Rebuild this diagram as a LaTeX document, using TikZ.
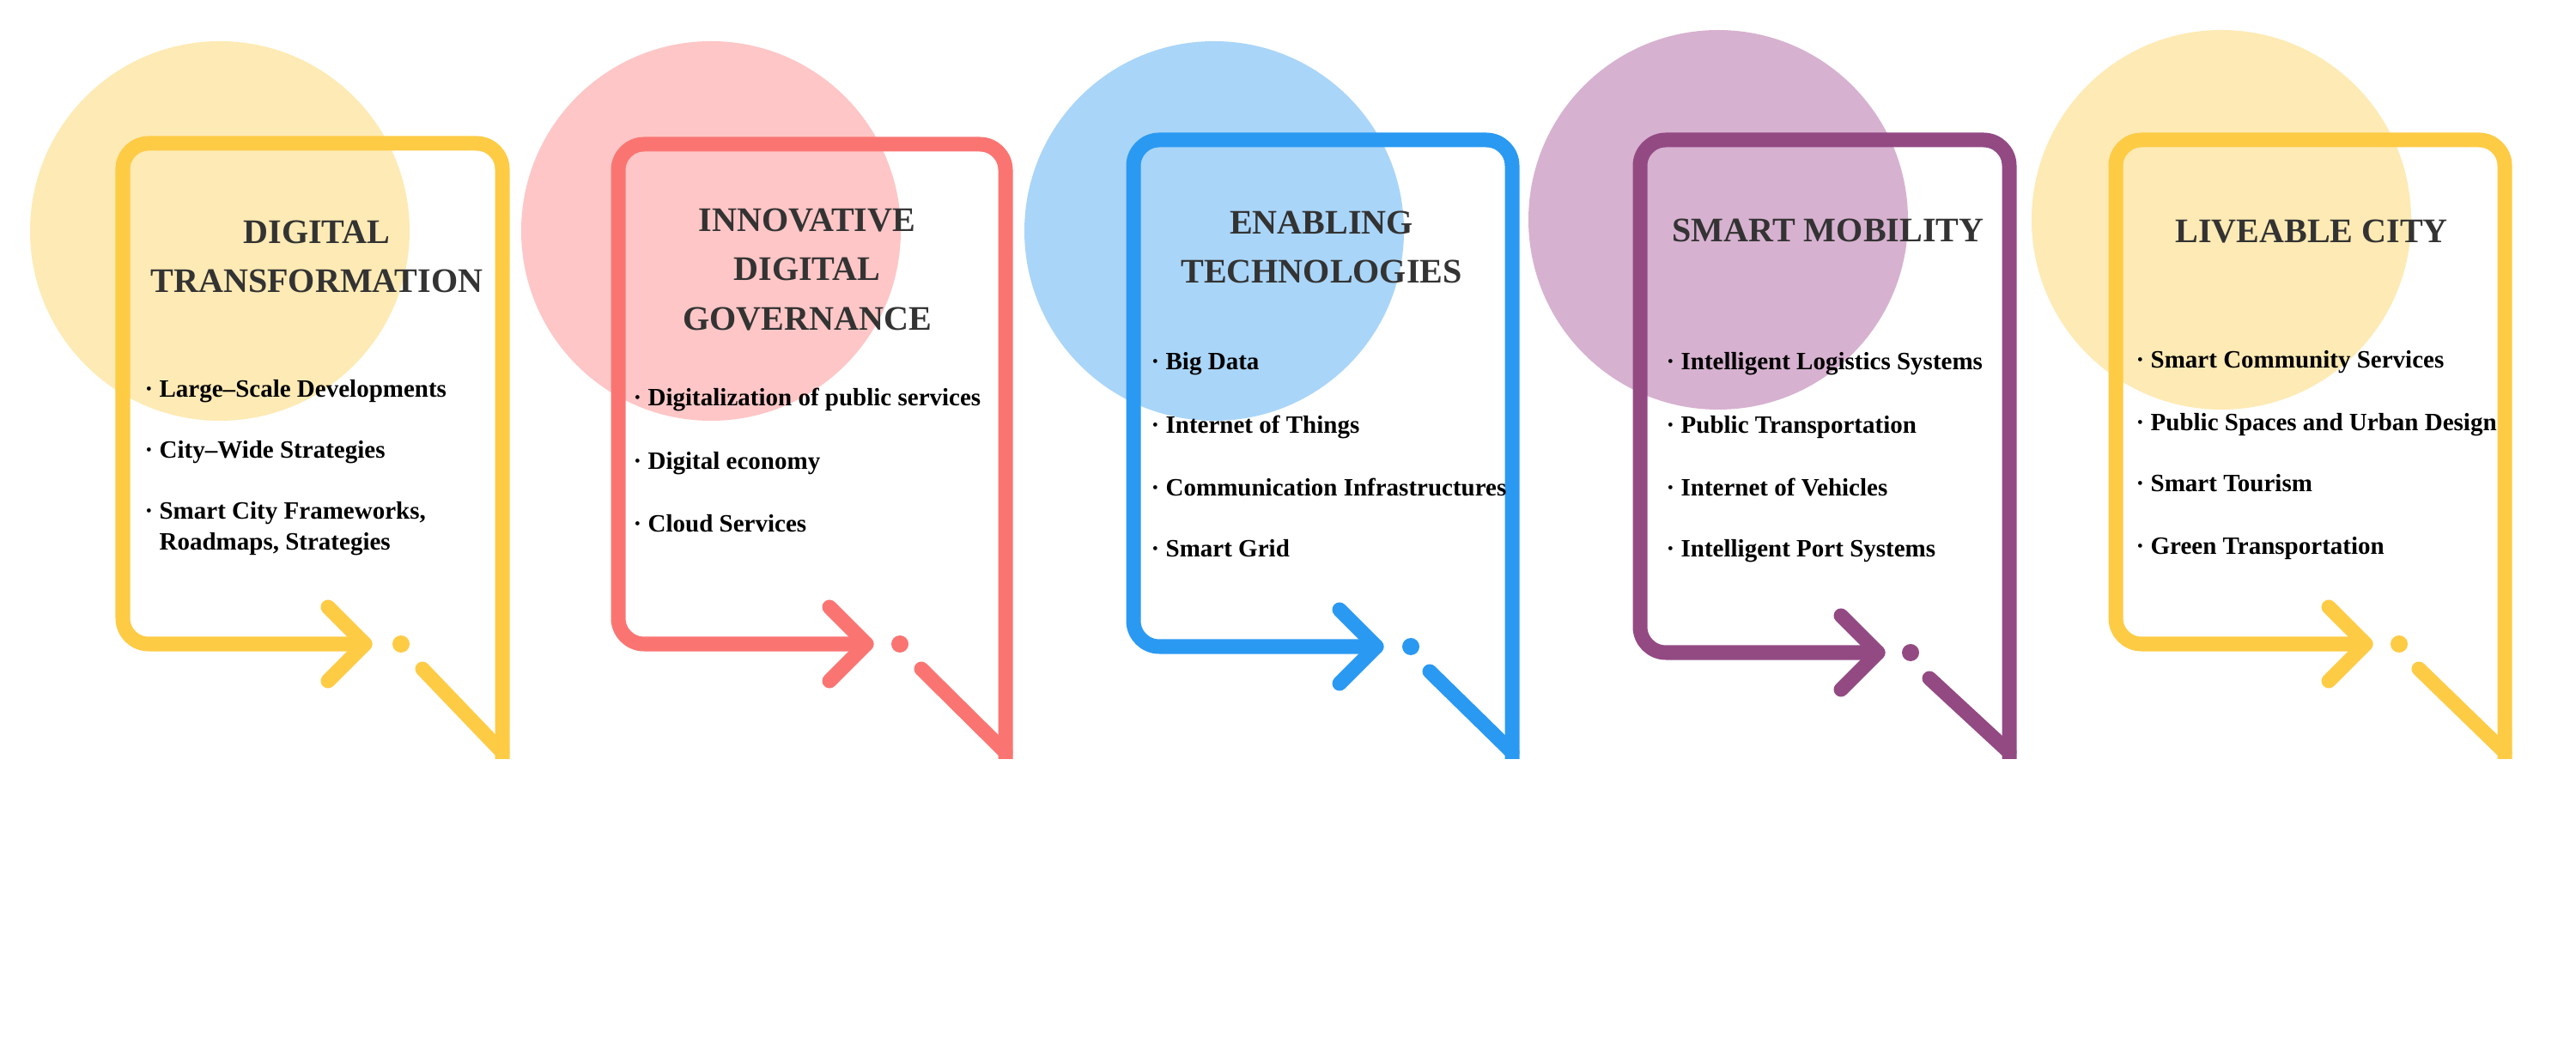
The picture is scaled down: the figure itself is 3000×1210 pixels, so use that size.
\documentclass[tikz,border=0pt]{standalone}
\usepackage{fontspec}
\setmainfont{Liberation Serif}
\definecolor{yellowline}{RGB}{254,203,69}
\definecolor{yellowfill}{RGB}{254,234,180}
\definecolor{redline}{RGB}{250,117,114}
\definecolor{redfill}{RGB}{254,198,198}
\definecolor{blueline}{RGB}{42,153,242}
\definecolor{bluefill}{RGB}{169,213,248}
\definecolor{purpleline}{RGB}{147,74,131}
\definecolor{purplefill}{RGB}{215,177,208}
\definecolor{titlegray}{RGB}{51,51,51}
\tikzstyle{bubble} = [line width=0.17cm, line cap=round, line join=round, rounded corners=0.3cm]
\tikzstyle{title} = [text centered, align=center, text=titlegray, font=\bfseries\fontsize{11.4}{16.3}\selectfont]
\tikzstyle{item} = [anchor=base west, align=left, inner sep=0pt, font=\bfseries\fontsize{8.25}{10.5}\selectfont]

\begin{document}
\begin{tikzpicture}[x=0.01cm, y=-0.01cm]
        \useasboundingbox (0,0) rectangle (3000,1210);
        \fill [white] (0,0) rectangle (3000,1210);

        % Circles behind the blocks
        \fill [yellowfill] (256,269) circle (221);
        \fill [redfill] (828,269) circle (221);
        \fill [bluefill] (1414,269) circle (221);
        \fill [purplefill] (2001,256) circle (221);
        \fill [yellowfill] (2587,256) circle (221);

        \begin{scope}
        \clip (0,0) rectangle (3000,884);
        % Digital transformation block
        \draw [bubble, yellowline] (425,750) -- (143,750) -- (143,167) -- (585,167) -- (585,884);
        \draw [bubble, yellowline] (492,779) -- (585,876);
        \draw [bubble, yellowline, sharp corners] (382,707) -- (425,750) -- (382,793);
        \fill [yellowline] (467,750) circle (10);

        % Governance block
        \draw [bubble, redline] (1009,750) -- (720,750) -- (720,168) -- (1171,168) -- (1171,884);
        \draw [bubble, redline] (1073,779) -- (1171,876);
        \draw [bubble, redline, sharp corners] (966,707) -- (1009,750) -- (966,793);
        \fill [redline] (1048,750) circle (10);

        % Technologies block
        \draw [bubble, blueline] (1603,753) -- (1320,753) -- (1320,163) -- (1761,163) -- (1761,884);
        \draw [bubble, blueline] (1665,782) -- (1761,876);
        \draw [bubble, blueline, sharp corners] (1560,710) -- (1603,753) -- (1560,796);
        \fill [blueline] (1643,753) circle (10);

        % Mobility block
        \draw [bubble, purpleline] (2187,760) -- (1910,760) -- (1910,163) -- (2340,163) -- (2340,884);
        \draw [bubble, purpleline] (2247,790) -- (2340,876);
        \draw [bubble, purpleline, sharp corners] (2144,717) -- (2187,760) -- (2144,803);
        \fill [purpleline] (2225,760) circle (10);

        % Liveable city block
        \draw [bubble, yellowline] (2755,750) -- (2464,750) -- (2464,163) -- (2917,163) -- (2917,884);
        \draw [bubble, yellowline] (2817,779) -- (2917,876);
        \draw [bubble, yellowline, sharp corners] (2712,707) -- (2755,750) -- (2712,793);
        \fill [yellowline] (2794,750) circle (10);
        \end{scope}

        % Titles
        \node (dt) at (369,299) [title] {DIGITAL\\TRANSFORMATION};
        \node (idg) at (940,314) [title] {INNOVATIVE\\DIGITAL\\GOVERNANCE};
        \node (et) at (1539,288) [title] {ENABLING\\TECHNOLOGIES};
        \node (sm) at (2129,268) [title] {SMART MOBILITY};
        \node (lc) at (2692,270) [title] {LIVEABLE CITY};

        % Items
        \node (dt1) at (168,463) [item] {· Large–Scale Developments};
        \node (dt2) at (168,534) [item] {· City–Wide Strategies};
        \node (dt3) at (168,641) [item] {· Smart City Frameworks,\\\hphantom{·\ }Roadmaps, Strategies};

        \node (idg1) at (737,473) [item] {· Digitalization of public services};
        \node (idg2) at (737,547) [item] {· Digital economy};
        \node (idg3) at (737,620) [item] {· Cloud Services};

        \node (et1) at (1340,431) [item] {· Big Data};
        \node (et2) at (1340,505) [item] {· Internet of Things};
        \node (et3) at (1340,578) [item] {· Communication Infrastructures};
        \node (et4) at (1340,649) [item] {· Smart Grid};

        \node (sm1) at (1940,431) [item] {· Intelligent Logistics Systems};
        \node (sm2) at (1940,505) [item] {· Public Transportation};
        \node (sm3) at (1940,578) [item] {· Internet of Vehicles};
        \node (sm4) at (1940,649) [item] {· Intelligent Port Systems};

        \node (lc1) at (2487,429) [item] {· Smart Community Services};
        \node (lc2) at (2487,502) [item] {· Public Spaces and Urban Design};
        \node (lc3) at (2487,573) [item] {· Smart Tourism};
        \node (lc4) at (2487,646) [item] {· Green Transportation};
    \end{tikzpicture}
\end{document}
